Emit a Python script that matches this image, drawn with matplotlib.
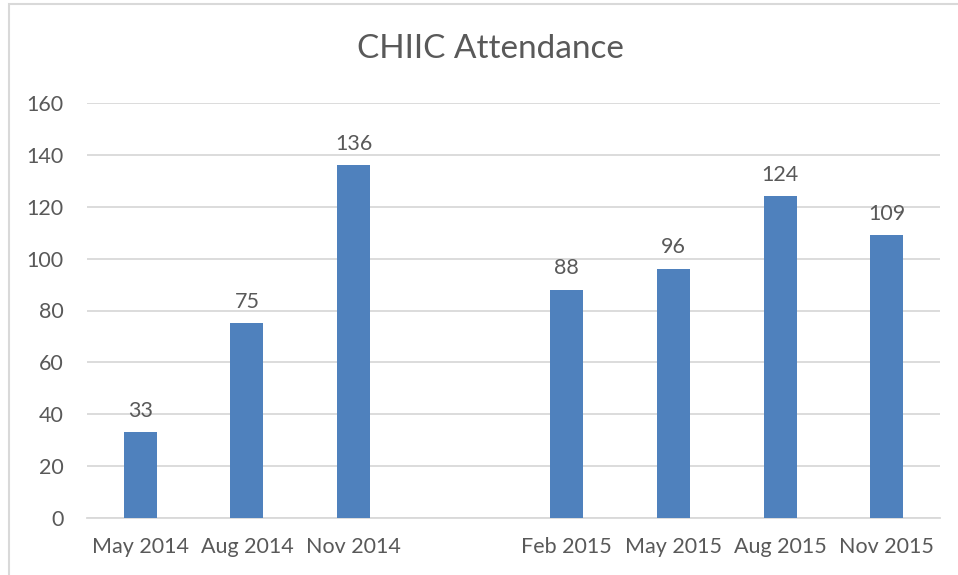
import matplotlib
matplotlib.use("Agg")
import matplotlib.pyplot as plt
from matplotlib.patches import Rectangle

categories = ["May 2014", "Aug 2014", "Nov 2014", "", "Feb 2015", "May 2015", "Aug 2015", "Nov 2015"]
values = [33, 75, 136, None, 88, 96, 124, 109]
yticks = [0, 20, 40, 60, 80, 100, 120, 140, 160]
title = "CHIIC Attendance"

plt.rcParams['font.family'] = ['Lato', 'DejaVu Sans']
txt = '#595959'

fig = plt.figure(figsize=(9.58, 5.75), dpi=100)
W, H = 958, 575
ax = fig.add_axes([87 / W, 1 - 518 / H, (940 - 87) / W, (518 - 103) / H])

xs = [i for i, v in enumerate(values) if v is not None]
vs = [v for v in values if v is not None]
bars = ax.bar(xs, vs, width=0.31, color='#4F81BD', zorder=3)
for x, v in zip(xs, vs):
    ax.text(x, v + 4.5, str(v), ha='center', va='bottom', fontsize=15.5, color=txt)

ax.set_xlim(-0.5, len(categories) - 0.5)
ax.set_ylim(0, 160)
ax.set_yticks(yticks)
ax.set_yticklabels([str(t) for t in yticks], fontsize=15.5, color=txt)
ax.set_xticks(range(len(categories)))
ax.set_xticklabels(categories, fontsize=15.5, color=txt)
ax.tick_params(length=0)
ax.tick_params(axis='x', pad=14)
ax.tick_params(axis='y', pad=17)
ax.grid(axis='y', color='#D9D9D9', linewidth=1.3, zorder=0)
for s in ['top', 'right', 'left']:
    ax.spines[s].set_visible(False)
ax.spines['bottom'].set_color('#D9D9D9')
ax.spines['bottom'].set_linewidth(1.3)

fig.text(490 / W, 1 - 49 / H, title, ha='center', va='center', fontsize=24, color=txt)
fig.patches.append(Rectangle((9 / W, -0.1), 1.2, 1 - 4 / H + 0.1, transform=fig.transFigure,
                             fill=False, edgecolor='#D9D9D9', linewidth=1.5))

fig.savefig("out.png", dpi=100)
